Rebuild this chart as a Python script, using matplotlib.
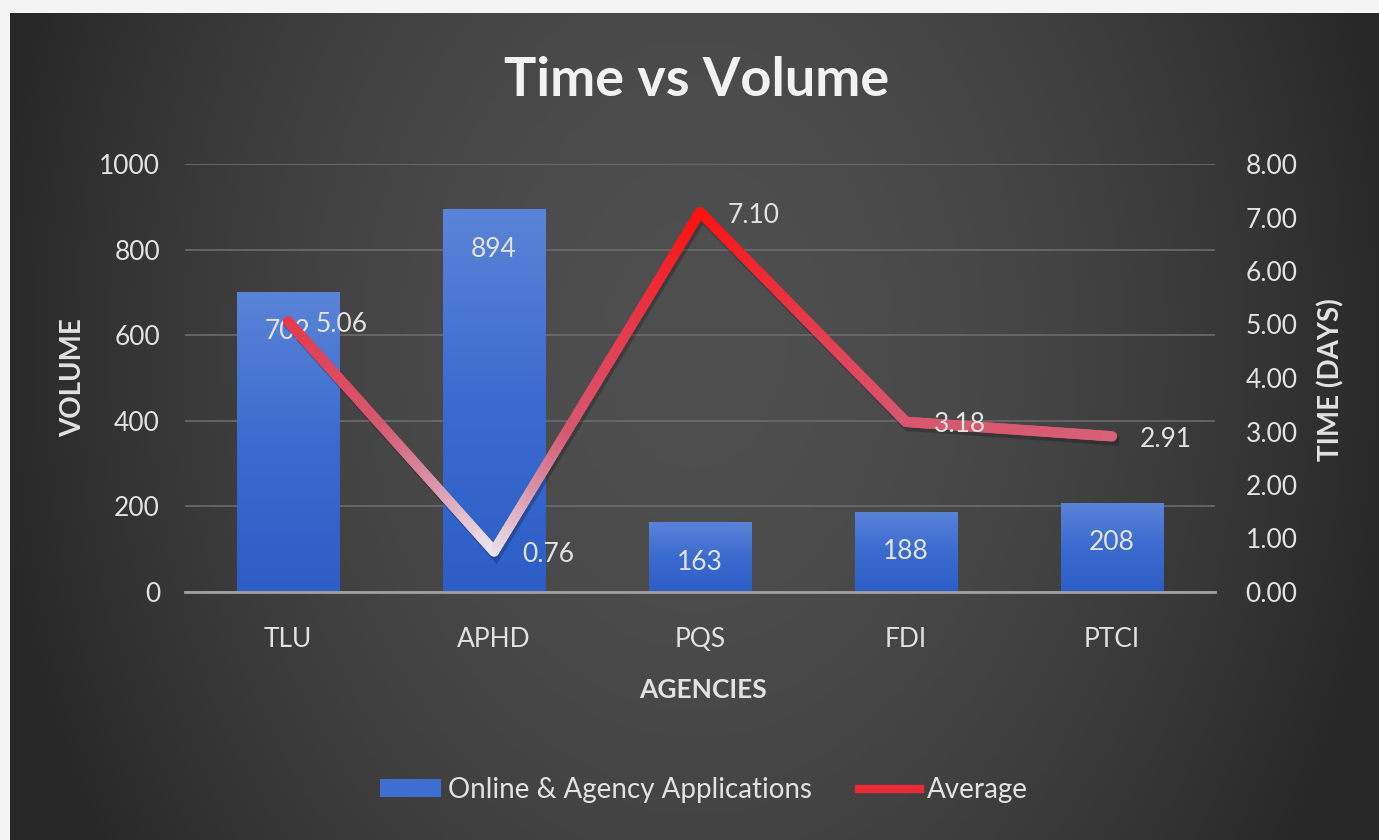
import numpy as np
import matplotlib
matplotlib.use('Agg')
from matplotlib import pyplot as plt
from matplotlib.collections import LineCollection
from matplotlib.colors import LinearSegmentedColormap
from matplotlib.patches import Patch
from matplotlib.lines import Line2D
from matplotlib.transforms import offset_copy

agencies = ['TLU', 'APHD', 'PQS', 'FDI', 'PTCI']
volume = [702, 894, 163, 188, 208]
avg_days = [5.06, 0.76, 7.10, 3.18, 2.91]

vol_ticks = [0, 200, 400, 600, 800, 1000]
day_ticks = [0, 1, 2, 3, 4, 5, 6, 7, 8]

plt.rcParams['font.family'] = ['Lato', 'DejaVu Sans']
txt = '#e2e2e2'

W, H = 1379, 840
fig = plt.figure(figsize=(W / 100, H / 100), dpi=100)
fig.patch.set_facecolor('#f4f4f4')

# dark panel with a soft light centre
bg = fig.add_axes([10 / W, 0, 1 - 10 / W, 1 - 13 / H], zorder=-10)
gx, gy = np.meshgrid(np.linspace(-1, 1, 400), np.linspace(-1, 1, 250))
d = np.sqrt(gx ** 2 + 0.2 * (gy + 0.2) ** 2)
shade = 0x4f - (0x4f - 0x2a) * np.clip(d, 0, 1.1) ** 1.8
shade = np.clip(shade, 0x27, 0x4f) / 255.0
bg.imshow(np.dstack([shade, shade, shade]), aspect='auto', extent=[0, 1, 0, 1])
bg.axis('off')

ax = fig.add_axes([185 / W, 1 - 592 / H, 1030 / W, 428 / H])
ax.set_facecolor('none')
x = np.arange(len(agencies))

# bars with a vertical blue gradient
bar_cmap = LinearSegmentedColormap.from_list('bar', ['#2c5ec6', '#3a6bcf', '#5b84d8'])
bars = ax.bar(x, volume, width=0.5, color='#3c6bcc', zorder=2)
grad = np.linspace(0, 1, 256).reshape(-1, 1)
for b in bars:
    im = ax.imshow(grad, extent=[b.get_x(), b.get_x() + b.get_width(), 0, b.get_height()],
                   origin='lower', aspect='auto', cmap=bar_cmap, zorder=3)
    im.set_clip_path(b)

for xi, v in zip(x, volume):
    ax.annotate(str(v), (xi, v), xytext=(0, -40), textcoords='offset pixels',
                ha='center', va='center', color=txt, fontsize=19, zorder=5)

ax.set_xlim(-0.5, len(agencies) - 0.5)
ax.set_ylim(0, 1000)
ax.set_yticks(vol_ticks)
ax.set_xticks(x)
ax.set_xticklabels(agencies)
ax.grid(axis='y', color='#6c6c6c', lw=1.2, zorder=0)
ax.set_axisbelow(True)
for s in ['top', 'right', 'left']:
    ax.spines[s].set_visible(False)
ax.spines['bottom'].set_color('#a0a0a0')
ax.spines['bottom'].set_linewidth(2)
ax.spines['bottom'].set_zorder(4)
ax.tick_params(axis='both', length=0, colors=txt, labelsize=19)
ax.tick_params(axis='y', pad=18)
ax.tick_params(axis='x', pad=25)

# secondary axis: average time line
ax2 = ax.twinx()
ax2.set_ylim(0, 8)
ax2.set_yticks(day_ticks)
ax2.set_yticklabels(['%.2f' % t for t in day_ticks])
for s in ax2.spines.values():
    s.set_visible(False)
ax2.tick_params(axis='y', length=0, colors=txt, labelsize=19, pad=22)

shadow_tr = offset_copy(ax2.transData, fig=fig, x=2, y=-4, units='dots')
ax2.plot(x, avg_days, color='black', alpha=0.22, lw=7.5, transform=shadow_tr,
         solid_joinstyle='miter', zorder=1)

line_cmap = LinearSegmentedColormap.from_list(
    'avg', [(0.0, '#ece8f2'), (0.2, '#d993a8'), (0.36, '#d65a72'),
            (0.66, '#e63a4c'), (1.0, '#ff1010')])
px, py = [], []
for i in range(len(x) - 1):
    t = np.linspace(0, 1, 80, endpoint=False)
    px.extend(x[i] + (x[i + 1] - x[i]) * t)
    py.extend(avg_days[i] + (avg_days[i + 1] - avg_days[i]) * t)
px.append(x[-1])
py.append(avg_days[-1])
pts = np.column_stack([px, py]).reshape(-1, 1, 2)
segs = np.concatenate([pts[:-1], pts[1:]], axis=1)
ymid = (np.array(py[:-1]) + np.array(py[1:])) / 2
lc = LineCollection(segs, cmap=line_cmap, norm=plt.Normalize(0.7, 7.15),
                    linewidths=7.5, capstyle='round', zorder=2)
lc.set_array(ymid)
ax2.add_collection(lc)

for xi, v in zip(x, avg_days):
    ax2.annotate('%.2f' % v, (xi, v), xytext=(28, -3), textcoords='offset pixels',
                 ha='left', va='center', color=txt, fontsize=19, zorder=5)

# titles and axis names
fig.text(697 / W, 1 - 80 / H, 'Time vs Volume', ha='center', va='center',
         color='#f2f2f2', fontsize=39, fontweight='bold')
fig.text(73 / W, 1 - 378 / H, 'VOLUME', rotation=90, ha='center', va='center',
         color=txt, fontsize=20, fontweight='bold')
fig.text(1331 / W, 1 - 380 / H, 'TIME (DAYS)', rotation=90, ha='center', va='center',
         color=txt, fontsize=20, fontweight='bold')
fig.text(703 / W, 1 - 690 / H, 'AGENCIES', ha='center', va='center',
         color=txt, fontsize=19, fontweight='bold')

handles = [Patch(facecolor='#3f6ed0', edgecolor='none'),
           Line2D([0], [0], color='#ea2a36', lw=6)]
leg = fig.legend(handles, ['Online & Agency Applications', 'Average'],
                 loc='center', bbox_to_anchor=(704 / W, 1 - 790 / H), ncol=2,
                 frameon=False, fontsize=20, handlelength=2.2, handleheight=0.6,
                 handletextpad=0.25, columnspacing=1.7, labelcolor=txt)

fig.savefig('out.png', dpi=100, facecolor=fig.get_facecolor())
